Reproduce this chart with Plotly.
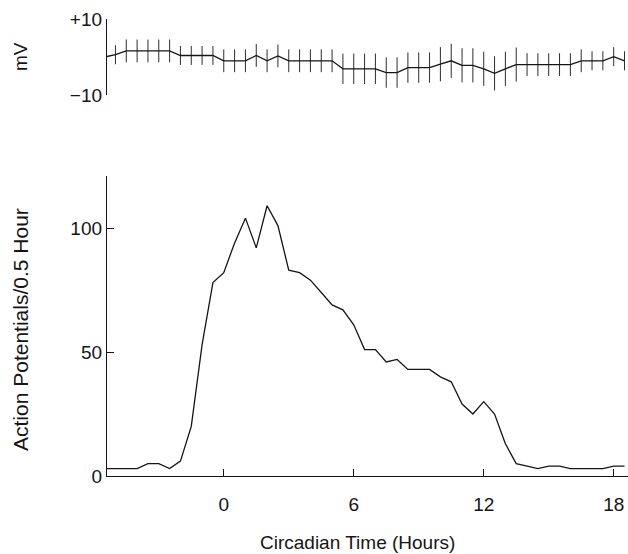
import plotly.graph_objects as go

# ---- data ----
# top panel: membrane potential (mV), every 0.5 h
mv_time = [-5.5 + 0.5 * i for i in range(49)]
mv_values = [0.0,
             0.6, 1.6, 1.6, 1.6, 1.6, 1.6, 0.4, 0.4, 0.4, 0.4,
             -1.0, -1.0, -1.0, 0.4, -1.0, 0.3, -1.0, -1.0, -1.0, -1.0,
             -1.0, -3.1, -3.1, -3.1, -3.1, -4.1, -4.1, -2.8, -2.8, -2.8,
             -1.9, -1.0, -2.2, -2.2, -3.1, -4.3, -3.1, -2.0, -2.0, -2.0,
             -2.0, -2.0, -2.0, -1.0, -1.0, -1.0, 0.1, -1.0]
mv_err = [0,
          2.5, 3.0, 3.0, 3.0, 3.0, 3.0, 2.5, 2.5, 2.5, 2.5,
          3.0, 3.0, 3.0, 3.0, 3.0, 3.0, 3.0, 3.0, 3.0, 3.0,
          3.0, 4.0, 4.0, 4.0, 4.0, 4.0, 4.0, 4.0, 4.0, 4.0,
          4.5, 4.5, 4.5, 4.5, 4.5, 4.5, 4.5, 4.5, 3.0, 3.0,
          3.0, 3.0, 3.0, 3.0, 2.5, 2.5, 2.5, 2.5]

# bottom panel: action potentials per 0.5 h
ap_time = [-5.5 + 0.5 * i for i in range(49)]
ap_values = [3, 3, 3, 3, 5, 5, 3, 6, 20, 53,
             78, 82, 94, 104, 92, 109, 101, 83, 82, 79,
             74, 69, 67, 61, 51, 51, 46, 47, 43, 43,
             43, 40, 38, 29, 25, 30, 25, 13, 5, 4,
             3, 4, 4, 3, 3, 3, 3, 4, 4]

x_ticks = [0, 6, 12, 18]
x_ticklabels = ["0", "6", "12", "18"]
ap_ticks = [0, 50, 100]
mv_ticks = [-10, 10]
mv_ticklabels = ["\u221210", "+10"]

# ---- layout geometry (body margin removed in post_script) ----
W, H = 628, 554

def px(p):
    return p / W

def py(p):
    return 1 - p / H

FONT = "Liberation Sans, Arial, Helvetica, sans-serif"
INK = "#151515"
FS = 19

fig = go.Figure()

fig.add_trace(go.Scatter(
    x=mv_time, y=mv_values, mode="lines",
    line=dict(color=INK, width=1.3),
    error_y=dict(type="data", array=mv_err, visible=True, color=INK,
                 thickness=0.9, width=0),
    xaxis="x2", yaxis="y2", showlegend=False))

fig.add_trace(go.Scatter(
    x=ap_time, y=ap_values, mode="lines",
    line=dict(color=INK, width=1.3),
    xaxis="x", yaxis="y", showlegend=False))

xr = [-5.39, 18.66]
fig.update_layout(
    width=W, height=H,
    margin=dict(l=0, r=0, t=0, b=0),
    paper_bgcolor="white", plot_bgcolor="white",
    font=dict(family=FONT, size=FS, color=INK),
    xaxis=dict(domain=[px(107), 1], range=xr, showgrid=False, zeroline=False,
               showline=True, linecolor=INK, linewidth=1.3,
               ticks="inside", ticklen=7, tickwidth=1.2, tickcolor=INK,
               tickvals=x_ticks, ticktext=x_ticklabels, automargin=False,
               ticklabelstandoff=11, anchor="y"),
    yaxis=dict(domain=[py(476), py(176)], range=[0, 121], showgrid=False,
               zeroline=False, showline=True, linecolor=INK, linewidth=1.3,
               ticks="inside", ticklen=7, tickwidth=1.2, tickcolor=INK,
               tickvals=ap_ticks, automargin=False, anchor="x"),
    xaxis2=dict(domain=[px(107), 1], range=xr, visible=False, anchor="y2"),
    yaxis2=dict(domain=[py(95), py(19)], range=[-10, 10], showgrid=False,
                zeroline=False, showline=True, linecolor=INK, linewidth=1.3,
                ticks="inside", ticklen=7, tickwidth=1.2, tickcolor=INK,
                tickvals=mv_ticks, ticktext=mv_ticklabels,
                automargin=False, anchor="x2"),
)

fig.add_annotation(text="Circadian Time (Hours)", x=px(357), y=py(542),
                   xref="paper", yref="paper", showarrow=False,
                   xanchor="center", yanchor="middle",
                   font=dict(size=FS, family=FONT, color=INK))
fig.add_annotation(text="Action Potentials/0.5 Hour", x=px(20), y=py(330),
                   xref="paper", yref="paper", showarrow=False, textangle=-90,
                   xanchor="center", yanchor="middle",
                   font=dict(size=21, family=FONT, color=INK))
fig.add_annotation(text="mV", x=px(20), y=py(57),
                   xref="paper", yref="paper", showarrow=False, textangle=-90,
                   xanchor="center", yanchor="middle",
                   font=dict(size=FS, family=FONT, color=INK))

fig.write_html(
    "out.html",
    config={"displayModeBar": False},
    post_script="document.body.style.margin='0';document.body.style.overflow='hidden';",
)
